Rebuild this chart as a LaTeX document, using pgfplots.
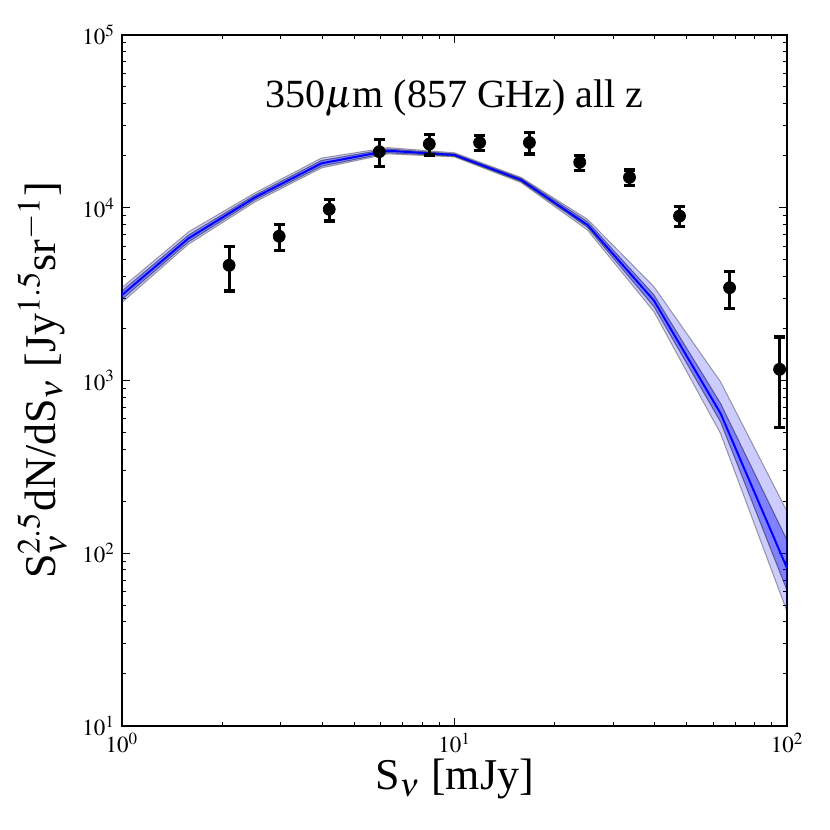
\documentclass[border=0pt]{standalone}
\usepackage{mathptmx}
\usepackage{fontspec}
\setmainfont{Liberation Serif}
\usepackage{pgfplots}
\pgfplotsset{compat=1.18}
\begin{document}
\begin{tikzpicture}
\path (-61pt,-52pt) rectangle (354pt,363pt);
\begin{axis}[
  scale only axis,
  width=332.5pt, height=345.5pt,
  xmode=log, ymode=log,
  xmin=1, xmax=100, ymin=10, ymax=100000,
  axis line style={line width=1pt},
  major tick length=4pt, minor tick length=2pt,
  every tick/.style={black, line width=0.5pt},
  tick label style={font=\fontsize{11.5}{13}\selectfont},
  xlabel={S$_\nu$ [mJy]},
  ylabel={S$_\nu^{2.5}$dN/dS$_\nu$ [Jy$^{1.5}$sr$^{-1}$]},
  label style={font=\fontsize{22}{26}\selectfont},
  xlabel style={at={(axis description cs:0.5,-0.077)},anchor=center},
  ylabel style={at={(axis description cs:-0.120,0.5)},anchor=center},
]
% outer band
\addplot[fill=blue, fill opacity=0.2, draw=black, draw opacity=0.35, line width=0.5pt] coordinates {
(1,3450)(1.585,7250)(2.512,12200)(3.981,19400)(6.31,22300)(10,20800)(15.85,15000)(25.12,8570)(39.81,3490)(63.1,984)(100,175)
(100,46)(63.1,494)(39.81,2500)(25.12,7430)(15.85,14000)(10,19700)(6.31,20500)(3.981,17000)(2.512,10800)(1.585,6150)(1,2830)
};
% inner band
\addplot[fill=blue, fill opacity=0.37, draw=black, draw opacity=0.45, line width=0.5pt] coordinates {
(1,3300)(1.585,6950)(2.512,11850)(3.981,18800)(6.31,21900)(10,20500)(15.85,14800)(25.12,8300)(39.81,3125)(63.1,738)(100,119)
(100,61)(63.1,577)(39.81,2673)(25.12,7710)(15.85,14200)(10,19900)(6.31,20800)(3.981,17400)(2.512,11100)(1.585,6350)(1,2950)
};
% median
\addplot[blue, line width=1pt] coordinates {
(1,3126)(1.585,6650)(2.512,11480)(3.981,18080)(6.31,21380)(10,20200)(15.85,14490)(25.12,7950)(39.81,2900)(63.1,646)(100,82)
};
% data
\addplot[black, only marks, mark=*, mark size=3pt,
  error bars/.cd, y dir=both, y explicit,
  error bar style={line width=1.6pt},
  error mark options={rotate=90, mark size=2.8pt, line width=1.6pt}]
coordinates {
(2.1,4645) +- (0,1350)
(2.97,6840) +- (0,1180)
(4.2,9800) +- (0,1420)
(5.94,21110) +- (0,3850)
(8.4,23390) +- (0,3200)
(11.9,23840) +- (0,2400)
(16.8,23840) +- (0,3360)
(23.8,18330) +- (0,1820)
(33.6,15000) +- (0,1530)
(47.5,8950) +- (0,1190)
(67.2,3445) +- (0,840)
(95,1161) +- (0,625)
};
\node[font=\fontsize{20}{24}\selectfont] at (rel axis cs:0.5,0.909) {350$\mu$m (857 GHz) all z};
\end{axis}
\end{tikzpicture}
\end{document}
